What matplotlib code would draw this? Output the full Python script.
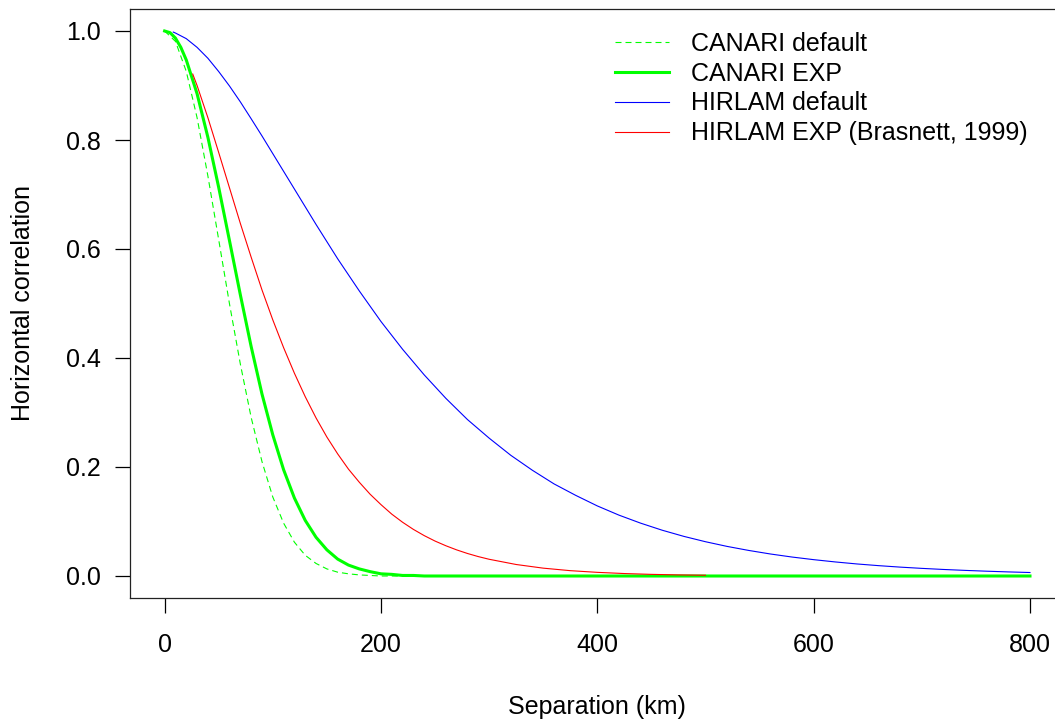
import matplotlib
matplotlib.use("Agg")
import matplotlib.pyplot as plt

plt.rcParams['font.family'] = ['Liberation Sans', 'DejaVu Sans']

# ---- data ----
canari_def_x = [0, 10, 20, 30, 40, 50, 60, 70, 80, 90, 100, 110, 120, 130, 140,
                150, 160, 170, 180, 190, 200, 800]
canari_def_y = [1.000, 0.981, 0.926, 0.841, 0.734, 0.617, 0.499, 0.389, 0.291,
                0.210, 0.145, 0.097, 0.062, 0.038, 0.023, 0.013, 0.007, 0.004,
                0.002, 0.001, 0.000, 0.000]

canari_exp_x = [0, 5, 10, 15, 20, 30, 40, 50, 60, 70, 80, 90, 100, 110, 120, 130,
                140, 150, 160, 170, 180, 190, 200, 210, 220, 230, 240, 800]
canari_exp_y = [1.000, 0.997, 0.987, 0.970, 0.947, 0.885, 0.805, 0.713, 0.615,
                0.516, 0.421, 0.334, 0.259, 0.195, 0.143, 0.102, 0.071, 0.048,
                0.031, 0.020, 0.013, 0.008, 0.004, 0.003, 0.001, 0.001, 0.000,
                0.000]

hirlam_def_x = [8, 10, 20, 30, 40, 50, 60, 70, 80, 90, 100, 120, 140, 160, 180,
                200, 220, 240, 260, 280, 300, 320, 340, 360, 380, 400, 420, 440,
                460, 480, 500, 520, 540, 560, 580, 600, 620, 640, 660, 680, 700,
                720, 740, 760, 780, 800]
hirlam_def_y = [0.998, 0.9963, 0.986, 0.970, 0.950, 0.9256, 0.899, 0.870, 0.839,
                0.8075, 0.775, 0.710, 0.645, 0.582, 0.523, 0.467, 0.416, 0.369,
                0.326, 0.287, 0.253, 0.2215, 0.194, 0.169, 0.148, 0.1286, 0.1117,
                0.0970, 0.0840, 0.0727, 0.0629, 0.0543, 0.0469, 0.0404, 0.0348,
                0.0300, 0.0258, 0.0221, 0.0190, 0.0163, 0.0140, 0.0120, 0.0103,
                0.0088, 0.0075, 0.0064]

hirlam_exp_x = [26, 30, 40, 50, 60, 70, 80, 90, 100, 110, 120, 130, 140, 150, 160,
                170, 180, 190, 200, 210, 220, 230, 240, 250, 260, 270, 280, 290,
                300, 325, 350, 375, 400, 425, 450, 475, 500]
hirlam_exp_y = [0.921, 0.900, 0.841, 0.777, 0.712, 0.647, 0.585, 0.525, 0.470,
                0.419, 0.372, 0.329, 0.290, 0.255, 0.224, 0.196, 0.172, 0.150,
                0.131, 0.1135, 0.0986, 0.0855, 0.0741, 0.0641, 0.0555, 0.0479,
                0.0413, 0.0356, 0.0307, 0.0211, 0.0144, 0.0098, 0.0067, 0.0045,
                0.0030, 0.0020, 0.0014]

labels = ["CANARI default", "CANARI EXP", "HIRLAM default",
          "HIRLAM EXP (Brasnett, 1999)"]
x_ticks = [0, 200, 400, 600, 800]
y_ticks = [0.0, 0.2, 0.4, 0.6, 0.8, 1.0]

# ---- figure ----
W, H = 1055, 724
fig = plt.figure(figsize=(W / 100, H / 100), dpi=100)
ax = fig.add_axes([130 / W, 1 - 597.8 / H, 934.6 / W, (597.8 - 9.2) / H])

fs = 18
ax.plot(canari_def_x, canari_def_y, color='#00ff00', lw=0.8,
        linestyle=(0, (5.4, 3.6)), label=labels[0])
ax.plot(canari_exp_x, canari_exp_y, color='#00ff00', lw=2.2, label=labels[1])
ax.plot(hirlam_def_x, hirlam_def_y, color='#0000ff', lw=0.8, label=labels[2])
ax.plot(hirlam_exp_x, hirlam_exp_y, color='#ff0000', lw=0.8, label=labels[3])

ax.set_xlim(-32, 832)
ax.set_ylim(-0.04, 1.04)
ax.set_xticks(x_ticks)
ax.set_xticklabels([str(v) for v in x_ticks])
ax.set_yticks(y_ticks)
ax.set_yticklabels(["%.1f" % v for v in y_ticks])
ax.tick_params(axis='both', direction='out', length=11, width=0.9,
               labelsize=fs, colors='black')
ax.tick_params(axis='x', pad=14)
ax.tick_params(axis='y', pad=10)
for s in ax.spines.values():
    s.set_linewidth(0.9)
    s.set_color('#222222')

ax.set_xlabel("Separation (km)", fontsize=fs, labelpad=28)
ax.set_ylabel("Horizontal correlation", fontsize=fs, labelpad=22)

leg = ax.legend(loc='upper left', bbox_to_anchor=(615 / W, 1 - 32 / H),
                bbox_transform=fig.transFigure, frameon=False, fontsize=fs,
                handlelength=2.15, handletextpad=0.88, labelspacing=0.23,
                borderpad=0, borderaxespad=0)

fig.savefig("out.png", dpi=100)
